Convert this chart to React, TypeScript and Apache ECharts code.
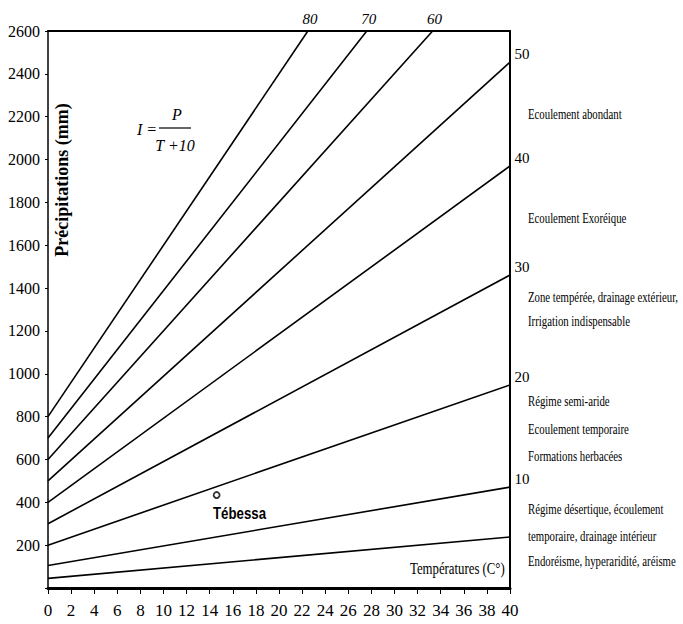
import React, { useEffect, useRef } from "react";
import * as echarts from "echarts";

// Aridity index lines (De Martonne)
const indexNames = ["5", "10", "20", "30", "40", "50", "60", "70", "80"];
const startT = [0, 0, 0, 0, 0, 0, 0, 0, 0];
const startP = [45, 105, 200, 300, 400, 500, 600, 700, 800];
const endT = [40, 40, 40, 40, 40, 40, 33.3, 27.6, 22.5];
const endP = [238, 471, 948, 1461, 1970, 2455, 2600, 2600, 2600];
const showEndLabel = [false, true, true, true, true, true, true, true, true];

// Station
const stationName = "Tébessa";
const stationT = 14.6;
const stationP = 434;

// Axes
const xMin = 0, xMax = 40, xStep = 2;
const yMin = 0, yMax = 2600, yStep = 200;

// Right-side legend texts
const zoneTexts = [
  "Ecoulement abondant",
  "Ecoulement Exoréique",
  "Zone tempérée, drainage extérieur,",
  "Irrigation indispensable",
  "Régime semi-aride",
  "Ecoulement temporaire",
  "Formations herbacées",
  "Régime désertique, écoulement",
  "temporaire, drainage intérieur",
  "Endoréisme, hyperaridité, aréisme",
];
const zoneTextY = [115, 219, 298, 322, 402, 430, 457, 510, 537, 562];

const SERIF = "'Liberation Serif', 'Times New Roman', serif";
const SANS = "'Liberation Sans', Arial, sans-serif";

export default function App() {
  const ref = useRef<HTMLDivElement>(null);

  useEffect(() => {
    if (!ref.current) return;
    const chart = echarts.init(ref.current, undefined, { renderer: "svg" });

    const lineSeries = indexNames.map((name, i) => {
      const atTop = endP[i] >= yMax;
      return {
        type: "line",
        name: "I=" + name,
        xAxisIndex: 0,
        yAxisIndex: 0,
        symbol: "circle",
        symbolSize: 1,
        showSymbol: true,
        itemStyle: { color: "#000" },
        silent: true,
        lineStyle: { color: "#000", width: 1.6 },
        data: [
          { value: [startT[i], startP[i]], symbol: "none" },
          {
            value: [endT[i], endP[i]],
            label: {
              show: showEndLabel[i],
              formatter: name,
              position: atTop ? "top" : "right",
              distance: 4,
              offset: atTop ? [2, 0] : [0, -8],
              color: "#000",
              fontFamily: SERIF,
              fontSize: 15,
              fontStyle: atTop ? "italic" : "normal",
            },
          },
        ],
      };
    });

    const graphics: any[] = [
      // y axis title
      {
        type: "text",
        x: 62,
        y: 180,
        rotation: Math.PI / 2,
        style: {
          text: "Précipitations (mm)",
          font: "bold 18px " + SERIF,
          fill: "#000",
          align: "center",
          verticalAlign: "middle",
        },
      },
      // formula
      {
        type: "text",
        x: 137,
        y: 129,
        style: { text: "I =", font: "italic 16px " + SERIF, fill: "#000", verticalAlign: "middle" },
      },
      {
        type: "text",
        x: 177,
        y: 114,
        style: { text: "P", font: "italic 16px " + SERIF, fill: "#000", align: "center", verticalAlign: "middle" },
      },
      {
        type: "line",
        shape: { x1: 159, y1: 128, x2: 191, y2: 128 },
        style: { stroke: "#000", lineWidth: 1.2 },
      },
      {
        type: "text",
        x: 175,
        y: 145,
        style: { text: "T +10", font: "italic 16px " + SERIF, fill: "#000", align: "center", verticalAlign: "middle" },
      },
      // station label
      {
        type: "text",
        x: 213,
        y: 513,
        scaleX: 0.78,
        style: {
          text: stationName,
          font: "bold 17px " + SANS,
          fill: "#000",
          verticalAlign: "middle",
        },
      },
      // x axis title
      {
        type: "text",
        x: 410,
        y: 568,
        scaleX: 0.8,
        style: { text: "Températures (C°)", font: "16px " + SERIF, fill: "#000", verticalAlign: "middle" },
      },
      ...zoneTexts.map((t, i) => ({
        type: "text",
        x: 528,
        y: zoneTextY[i],
        scaleX: 0.77,
        style: { text: t, font: "14px " + SERIF, fill: "#000", verticalAlign: "middle" },
      })),
    ];

    chart.setOption({
      animation: false,
      backgroundColor: "#fff",
      grid: { left: 48, right: 173, top: 31, bottom: 36, containLabel: false },
      xAxis: [
        {
          type: "value",
          min: xMin,
          max: xMax,
          interval: xStep,
          position: "bottom",
          axisLine: { show: true, onZero: false, lineStyle: { color: "#000", width: 3 } },
          axisTick: { show: true, length: 6, lineStyle: { color: "#000", width: 1 } },
          axisLabel: { color: "#000", fontFamily: SERIF, fontSize: 17, margin: 14 },
          splitLine: { show: false },
        },
        {
          type: "value",
          min: xMin,
          max: xMax,
          position: "top",
          axisLine: { show: true, onZero: false, lineStyle: { color: "#000", width: 2 } },
          axisTick: { show: false },
          axisLabel: { show: false },
          splitLine: { show: false },
        },
      ],
      yAxis: [
        {
          type: "value",
          min: yMin,
          max: yMax,
          interval: yStep,
          position: "left",
          axisLine: { show: true, onZero: false, lineStyle: { color: "#000", width: 1.5 } },
          axisTick: { show: true, length: 3, lineStyle: { color: "#000", width: 1 } },
          axisLabel: {
            color: "#000",
            fontFamily: SERIF,
            fontSize: 16,
            margin: 8,
            formatter: (v: number) => (v === 0 ? "" : String(v)),
          },
          splitLine: { show: false },
        },
        {
          type: "value",
          min: yMin,
          max: yMax,
          position: "right",
          axisLine: { show: true, onZero: false, lineStyle: { color: "#000", width: 2 } },
          axisTick: { show: false },
          axisLabel: { show: false },
          splitLine: { show: false },
        },
      ],
      series: [
        ...lineSeries,
        {
          type: "scatter",
          name: stationName,
          xAxisIndex: 0,
          yAxisIndex: 0,
          symbol: "circle",
          symbolSize: 6,
          itemStyle: { color: "#fff", borderColor: "#000", borderWidth: 1.8 },
          data: [[stationT, stationP]],
        },
      ],
      graphic: graphics,
    });

    return () => chart.dispose();
  }, []);

  return (
    <div
      ref={ref}
      style={{ position: "absolute", left: 0, top: 0, width: 683, height: 624, background: "#fff" }}
    />
  );
}
